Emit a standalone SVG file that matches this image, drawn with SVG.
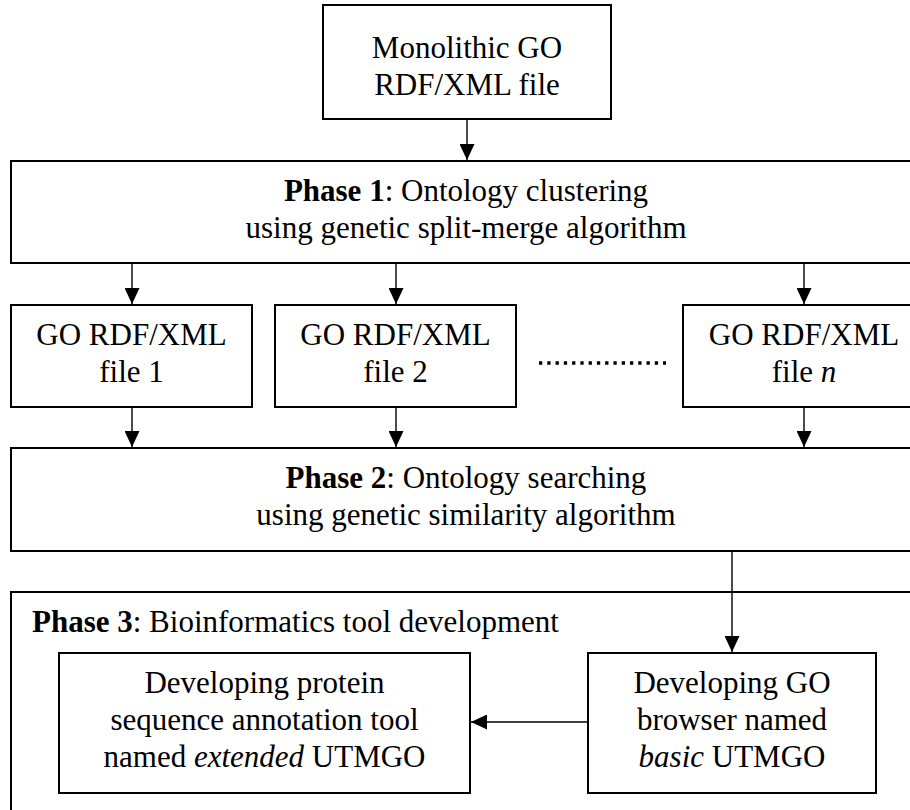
<svg xmlns="http://www.w3.org/2000/svg" width="910" height="810" viewBox="0 0 910 810">
<defs>
<marker id="ah" markerUnits="userSpaceOnUse" markerWidth="16" markerHeight="15" refX="16" refY="7.5" orient="auto">
<path d="M0,0 L16,7.5 L0,15 z" fill="#000"/>
</marker>
<style>
.box{fill:#fff;stroke:#000;stroke-width:2}
.frame{fill:none;stroke:#000;stroke-width:2}
.t{font-family:"Liberation Serif","Times New Roman",serif;font-size:31px;fill:#000}
.c{text-anchor:middle}
.b{font-weight:bold}
.i{font-style:italic}
.conn{stroke:#000;stroke-width:1.4;fill:none;marker-end:url(#ah)}
</style>
</defs>
<rect width="910" height="810" fill="#fff"/>
<g id="monolithic">
<rect class="box" x="323" y="5" width="288" height="114"/>
<text class="t c" x="467" y="58">Monolithic GO</text>
<text class="t c" x="467" y="95">RDF/XML file</text>
</g>
<g id="phase1">
<rect class="box" x="11" y="161" width="912" height="102"/>
<text class="t c" x="466" y="201"><tspan class="b">Phase 1</tspan>: Ontology clustering</text>
<text class="t c" x="466" y="238">using genetic split-merge algorithm</text>
</g>
<g id="file1">
<rect class="box" x="11" y="305" width="241" height="102"/>
<text class="t c" x="131.5" y="345">GO RDF/XML</text>
<text class="t c" x="131.5" y="382">file 1</text>
</g>
<g id="file2">
<rect class="box" x="275" y="305" width="241" height="102"/>
<text class="t c" x="395.5" y="345">GO RDF/XML</text>
<text class="t c" x="395.5" y="382">file 2</text>
</g>
<g id="ellipsis">
<line x1="539" y1="363" x2="666" y2="363" stroke="#000" stroke-width="3.3" stroke-dasharray="3.3 4.97"/>
</g>
<g id="filen">
<rect class="box" x="683" y="305" width="242" height="102"/>
<text class="t c" x="804" y="345">GO RDF/XML</text>
<text class="t c" x="804" y="382">file <tspan class="i">n</tspan></text>
</g>
<g id="phase2">
<rect class="box" x="11" y="448" width="912" height="103"/>
<text class="t c" x="466" y="488"><tspan class="b">Phase 2</tspan>: Ontology searching</text>
<text class="t c" x="466" y="525">using genetic similarity algorithm</text>
</g>
<g id="phase3">
<rect class="frame" x="11" y="592" width="912" height="240"/>
<text class="t" x="32" y="632"><tspan class="b">Phase 3</tspan>: Bioinformatics tool development</text>
</g>
<g id="extended">
<rect class="box" x="59" y="653" width="411" height="140"/>
<text class="t c" x="264.5" y="693">Developing protein</text>
<text class="t c" x="264.5" y="730">sequence annotation tool</text>
<text class="t c" x="264.5" y="767">named <tspan class="i">extended</tspan> UTMGO</text>
</g>
<g id="basic">
<rect class="box" x="588" y="653" width="288" height="140"/>
<text class="t c" x="732" y="693">Developing GO</text>
<text class="t c" x="732" y="730">browser named</text>
<text class="t c" x="732" y="767"><tspan class="i">basic</tspan> UTMGO</text>
</g>
<g id="connectors">
<line class="conn" x1="467" y1="120" x2="467" y2="160"/>
<line class="conn" x1="132" y1="264" x2="132" y2="304"/>
<line class="conn" x1="396" y1="264" x2="396" y2="304"/>
<line class="conn" x1="804" y1="264" x2="804" y2="304"/>
<line class="conn" x1="132" y1="408" x2="132" y2="447"/>
<line class="conn" x1="396" y1="408" x2="396" y2="447"/>
<line class="conn" x1="804" y1="408" x2="804" y2="447"/>
<line class="conn" x1="732" y1="552" x2="732" y2="652"/>
<line class="conn" x1="587" y1="722" x2="471" y2="722"/>
</g>
</svg>
